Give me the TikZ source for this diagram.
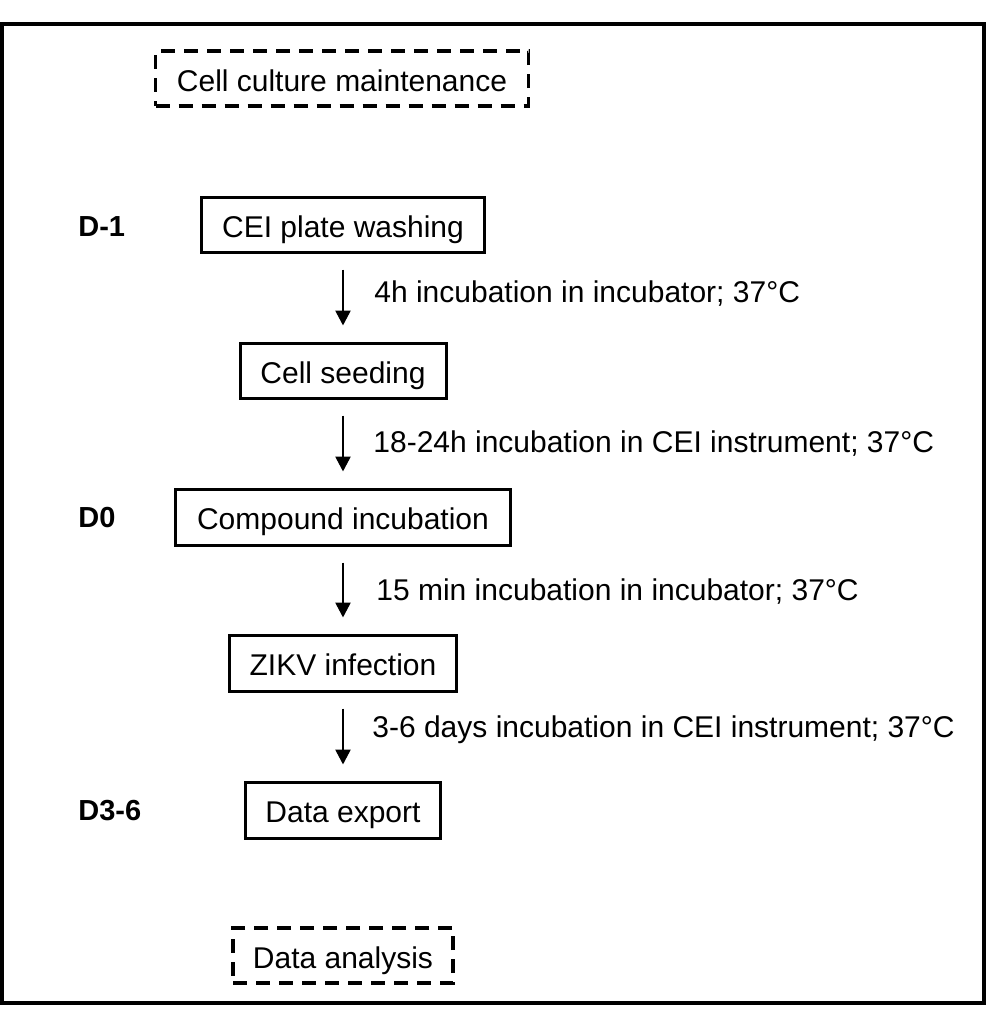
\documentclass[tikz,border=0pt]{standalone}
\usepackage{fontspec}
\setmainfont{Liberation Sans}
\usetikzlibrary{arrows.meta}
\begin{document}
\begin{tikzpicture}[x=0.5pt,y=-0.5pt,
  txt/.style={font=\fontsize{15}{18}\selectfont},
  stepbox/.style={txt, draw, line width=1.5pt, inner sep=0pt, text height=13pt, text depth=0.3pt, minimum height=27.5pt},
  dashbox/.style={stepbox, line width=1.7pt, dash pattern=on 7pt off 4.5pt},
  daylbl/.style={font=\fontsize{14.5}{18}\selectfont\bfseries, anchor=base west, inner sep=0pt},
  lbl/.style={txt, anchor=base west, inner sep=0pt},
  arr/.style={line width=1.3pt, -{Triangle[width=7.5pt,length=7.5pt]}, shorten <=8pt, shorten >=8pt}]
\useasboundingbox (0,0) rectangle (1000,1028);
\draw[line width=1.6pt] (2,24) rectangle (984,1003);
% boxes
\node[dashbox, minimum width=186.5pt] (ccm) at (342,78.5) {Cell culture maintenance};
\node[stepbox, minimum width=141.5pt] (wash) at (343,224.5) {CEI plate washing};
\node[stepbox, minimum width=103pt] (seed) at (343,370.5) {Cell seeding};
\node[stepbox, minimum width=167.5pt, minimum height=28pt] (comp) at (343,517) {Compound incubation};
\node[stepbox, minimum width=113.5pt, minimum height=28pt] (zikv) at (343,663) {ZIKV infection};
\node[stepbox, minimum width=97.5pt, minimum height=28pt] (export) at (343,810) {Data export};
\node[dashbox, minimum width=110pt] (anal) at (343,955.5) {Data analysis};
% day labels
\node[daylbl] (d1) at (78,236) {D-1};
\node[daylbl] (d0) at (78,527) {D0};
\node[daylbl] (d36) at (78,820) {D3-6};
% arrows
\draw[arr] (wash) -- (seed);
\draw[arr] (seed) -- (comp);
\draw[arr] (comp) -- (zikv);
\draw[arr] (zikv) -- (export);
% arrow labels
\node[lbl] (l1) at (374,302) {4h incubation in incubator; 37°C};
\node[lbl] (l2) at (373,452) {18-24h incubation in CEI instrument; 37°C};
\node[lbl] (l3) at (376,600) {15 min incubation in incubator; 37°C};
\node[lbl] (l4) at (372,737) {3-6 days incubation in CEI instrument; 37°C};
\end{tikzpicture}
\end{document}
